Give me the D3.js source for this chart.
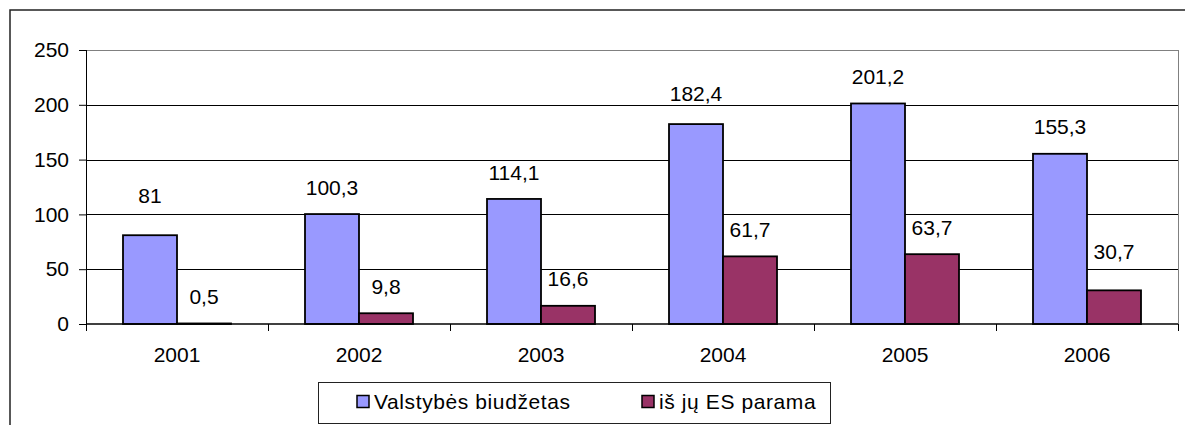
<!DOCTYPE html>
<html>
<head>
<meta charset="utf-8">
<script src="https://cdn.jsdelivr.net/npm/d3@7"></script>
<style>
  html, body { margin: 0; padding: 0; background: #fff; }
  svg { display: block; font-family: "Liberation Sans", Arial, sans-serif; }
</style>
</head>
<body>
<svg id="chart" width="1185" height="425"></svg>
<script>
const years = ["2001", "2002", "2003", "2004", "2005", "2006"];
const budget = [81, 100.3, 114.1, 182.4, 201.2, 155.3];
const euSupport = [0.5, 9.8, 16.6, 61.7, 63.7, 30.7];
const yTicks = [0, 50, 100, 150, 200, 250];
const seriesNames = ["Valstybės biudžetas", "iš jų ES parama"];

const colors = ["#9999ff", "#993366"];
const fontSize = 21;

// labels that Excel had nudged up a bit further than the rest
const labelNudge = { "0-0": 13, "0-3": 4, "1-5": 12 };

const svg = d3.select("#chart");
const width = 1185, height = 425;
const margin = { left: 86, right: 7, top: 50, bottom: 101 };

// outer chart frame (only top and left are inside the picture)
svg.append("path")
  .attr("d", `M10,${height} L10,10 L${width},10`)
  .attr("fill", "none")
  .attr("stroke", "#222")
  .attr("stroke-width", 1.5);

const x = d3.scaleBand()
  .domain(years)
  .range([margin.left, width - margin.right]);

// two bars per year, 37px gap on each side of the pair
const inner = d3.scaleBand()
  .domain([0, 1])
  .range([37, x.bandwidth() - 37]);

const y = d3.scaleLinear()
  .domain([0, 250])
  .range([height - margin.bottom, margin.top]);

// gridlines
svg.append("g")
  .selectAll("line")
  .data(yTicks.filter((t) => t > 0))
  .join("line")
  .attr("x1", margin.left)
  .attr("x2", width - margin.right)
  .attr("y1", (d) => Math.round(y(d)) + 0.5)
  .attr("y2", (d) => Math.round(y(d)) + 0.5)
  .attr("stroke", (d) => (d === 250 ? "#808080" : "#000"))
  .attr("stroke-width", 1);

// right border of plot area
svg.append("line")
  .attr("x1", width - margin.right + 0.5)
  .attr("x2", width - margin.right + 0.5)
  .attr("y1", y(250))
  .attr("y2", y(0))
  .attr("stroke", "#808080");

// bars
const rows = years.map((year, i) => ({ year, values: [budget[i], euSupport[i]] }));
const groups = svg.append("g")
  .selectAll("g")
  .data(rows)
  .join("g")
  .attr("transform", (d) => `translate(${x(d.year)},0)`);

groups.selectAll("rect")
  .data((d) => d.values.map((v, s) => ({ v, s })))
  .join("rect")
  .attr("x", (d) => inner(d.s))
  .attr("width", inner.bandwidth())
  .attr("y", (d) => y(d.v))
  .attr("height", (d) => y(0) - y(d.v))
  .attr("fill", (d) => colors[d.s])
  .attr("stroke", "#000")
  .attr("stroke-width", 1.8);

// value labels
const fmt = (v) => String(v).replace(".", ",");
groups.each(function (d, i) {
  d3.select(this).selectAll("text")
    .data(d.values.map((v, s) => ({ v, s })))
    .join("text")
    .attr("x", (e) => inner(e.s) + inner.bandwidth() / 2)
    .attr("y", (e) => y(e.v) - 27 - (labelNudge[`${e.s}-${i}`] || 0) + fontSize * 0.36)
    .attr("text-anchor", "middle")
    .attr("font-size", fontSize)
    .attr("fill", "#000")
    .text((e) => fmt(e.v));
});

// y axis
const yAxis = svg.append("g")
  .attr("transform", `translate(${margin.left},0)`)
  .call(d3.axisLeft(y).tickValues(yTicks).tickSize(7).tickPadding(10).tickFormat(d3.format("d")));
yAxis.select(".domain").attr("stroke", "#000").attr("d", `M0.5,${y(250)}V${y(0)}`);
yAxis.selectAll(".tick line").attr("stroke", "#000");
yAxis.selectAll(".tick text")
  .attr("font-size", fontSize)
  .attr("font-family", "Liberation Sans, Arial, sans-serif")
  .attr("fill", "#000");

// x axis: zero line with ticks on category boundaries
const xAxis = svg.append("g");
xAxis.append("line")
  .attr("x1", margin.left)
  .attr("x2", width - margin.right)
  .attr("y1", y(0))
  .attr("y2", y(0))
  .attr("stroke", "#000")
  .attr("stroke-width", 1.5);
xAxis.selectAll("line.tick")
  .data([...years.map((yr) => x(yr)), width - margin.right])
  .join("line")
  .attr("class", "tick")
  .attr("x1", (d) => d + 0.5)
  .attr("x2", (d) => d + 0.5)
  .attr("y1", y(0))
  .attr("y2", y(0) + 7)
  .attr("stroke", "#000");
xAxis.selectAll("text")
  .data(years)
  .join("text")
  .attr("x", (d) => x(d) + x.bandwidth() / 2)
  .attr("y", y(0) + 30 + fontSize * 0.36)
  .attr("text-anchor", "middle")
  .attr("font-size", fontSize)
  .text((d) => d);

// legend
const legend = svg.append("g").attr("transform", "translate(318,382)");
legend.append("rect")
  .attr("x", 0.5)
  .attr("y", 0.5)
  .attr("width", 512)
  .attr("height", 41)
  .attr("fill", "#fff")
  .attr("stroke", "#222")
  .attr("stroke-width", 1);
const legendX = [39, 324];
seriesNames.forEach((name, s) => {
  legend.append("rect")
    .attr("x", legendX[s])
    .attr("y", 13.5)
    .attr("width", 12)
    .attr("height", 12)
    .attr("fill", colors[s])
    .attr("stroke", "#000")
    .attr("stroke-width", 1.5);
  legend.append("text")
    .attr("x", legendX[s] + 17)
    .attr("y", 19.5 + fontSize * 0.36)
    .attr("font-size", fontSize)
    .attr("letter-spacing", 0.6)
    .text(name);
});
</script>
</body>
</html>
